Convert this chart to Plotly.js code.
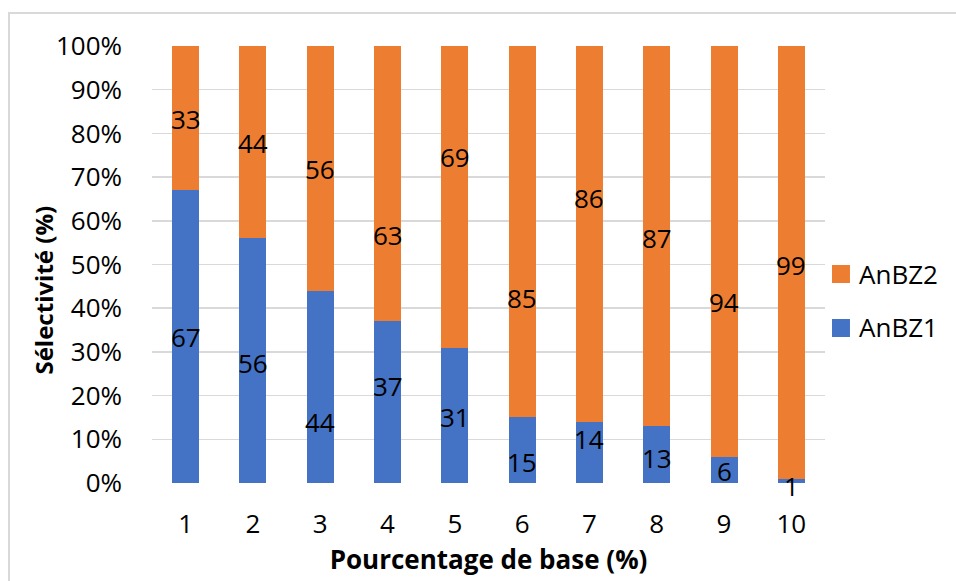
<!DOCTYPE html>
<html>
<head>
<meta charset="utf-8">
<script src="https://cdn.plot.ly/plotly-3.0.1.min.js"></script>
<style>
  html, body { margin: 0; padding: 0; background: #fff; }
  #wrap { position: relative; width: 956px; height: 581px; }
  #frame { position: absolute; left: 8px; top: 12px; width: 960px; height: 600px;
           border-left: 2px solid #d9d9d9; border-top: 2px solid #d9d9d9; pointer-events: none; }
  #chart { position: absolute; left: 0; top: 0; width: 956px; height: 581px; }
</style>
</head>
<body>
<div id="wrap">
  <div id="chart"></div>
  <div id="frame"></div>
</div>
<script>
// Data
const categories = ['1', '2', '3', '4', '5', '6', '7', '8', '9', '10'];
const anbz1 = [67, 56, 44, 37, 31, 15, 14, 13, 6, 1];
const anbz2 = [33, 44, 56, 63, 69, 85, 86, 87, 94, 99];
const seriesNames = ['AnBZ1', 'AnBZ2'];

// Label placement (as dragged in the original), in % of the axis
const labelPosAnBZ1 = [33.5, 27.4, 13.9, 22.1, 15.1, 4.9, 10.0, 5.7, 2.7, -0.8];
const labelPosAnBZ2 = [83.4, 77.7, 71.8, 56.7, 74.6, 42.3, 65.3, 56.0, 41.5, 49.9];

const BLUE = '#4472C4', ORANGE = '#ED7D31';
const FONT = '"Open Sans", Lato, "Liberation Sans", sans-serif';
const FS = 26;
const PLOT_H = 437; // px height of the plot area, used to convert below-axis label offsets

const traces = [
  { type: 'bar', name: seriesNames[0], x: categories, y: anbz1,
    marker: { color: BLUE }, hoverinfo: 'skip' },
  { type: 'bar', name: seriesNames[1], x: categories, y: anbz2,
    marker: { color: ORANGE }, hoverinfo: 'skip' }
];

function labelAnn(i, pos, txt) {
  const y = Math.max(pos, 0);
  const shift = (pos - y) * PLOT_H / 100;
  return { x: i, y: y, yshift: shift, xref: 'x', yref: 'y', text: txt,
    showarrow: false, font: { family: FONT, size: FS, color: '#000' } };
}

const annotations = [];
categories.forEach((c, i) => {
  annotations.push(labelAnn(i, labelPosAnBZ1[i], String(anbz1[i])));
  annotations.push(labelAnn(i, labelPosAnBZ2[i], String(anbz2[i])));
});

// Y axis title (placed like the original, slightly below the plot centre)
annotations.push({ xref: 'paper', yref: 'paper', x: -0.1612, y: 0.4416, xanchor: 'center', yanchor: 'middle',
  textangle: -90, text: 'Sélectivité (%)', showarrow: false,
  font: { family: FONT, size: 24, color: '#000', weight: 'bold' } });

// Manual legend (AnBZ2 on top)
const shapes = [
  { type: 'rect', xref: 'paper', yref: 'paper', x0: 1.0104, x1: 1.0371, y0: 0.4577, y1: 0.4989,
    fillcolor: ORANGE, line: { width: 0 } },
  { type: 'rect', xref: 'paper', yref: 'paper', x0: 1.0104, x1: 1.0371, y0: 0.3341, y1: 0.3753,
    fillcolor: BLUE, line: { width: 0 } }
];
annotations.push({ xref: 'paper', yref: 'paper', x: 1.047, y: 0.478, xanchor: 'left', yanchor: 'middle',
  text: seriesNames[1], showarrow: false, font: { family: FONT, size: FS, color: '#000' } });
annotations.push({ xref: 'paper', yref: 'paper', x: 1.047, y: 0.356, xanchor: 'left', yanchor: 'middle',
  text: seriesNames[0], showarrow: false, font: { family: FONT, size: FS, color: '#000' } });

const layout = {
  width: 956, height: 581,
  margin: { l: 152, r: 131, t: 46, b: 98 },
  paper_bgcolor: 'rgba(0,0,0,0)', plot_bgcolor: 'rgba(0,0,0,0)',
  barmode: 'stack', bargap: 0.6,
  showlegend: false,
  font: { family: FONT, size: FS, color: '#000' },
  xaxis: {
    type: 'category', range: [-0.5, 9.5], showgrid: false, zeroline: false, showline: false, ticks: '',
    ticklabelstandoff: 23,
    tickfont: { family: FONT, size: FS, color: '#000' },
    title: { text: 'Pourcentage de base (%)', standoff: 3,
      font: { family: FONT, size: FS, color: '#000', weight: 'bold' } }
  },
  yaxis: {
    range: [0, 100], dtick: 10, ticksuffix: '%', showgrid: true, gridcolor: '#d9d9d9', gridwidth: 1.5,
    zeroline: false, showline: false, ticks: '', ticklabelstandoff: 29,
    tickfont: { family: FONT, size: FS, color: '#000' }
  },
  annotations: annotations,
  shapes: shapes
};

Plotly.newPlot('chart', traces, layout, { staticPlot: true, displayModeBar: false });
</script>
</body>
</html>
